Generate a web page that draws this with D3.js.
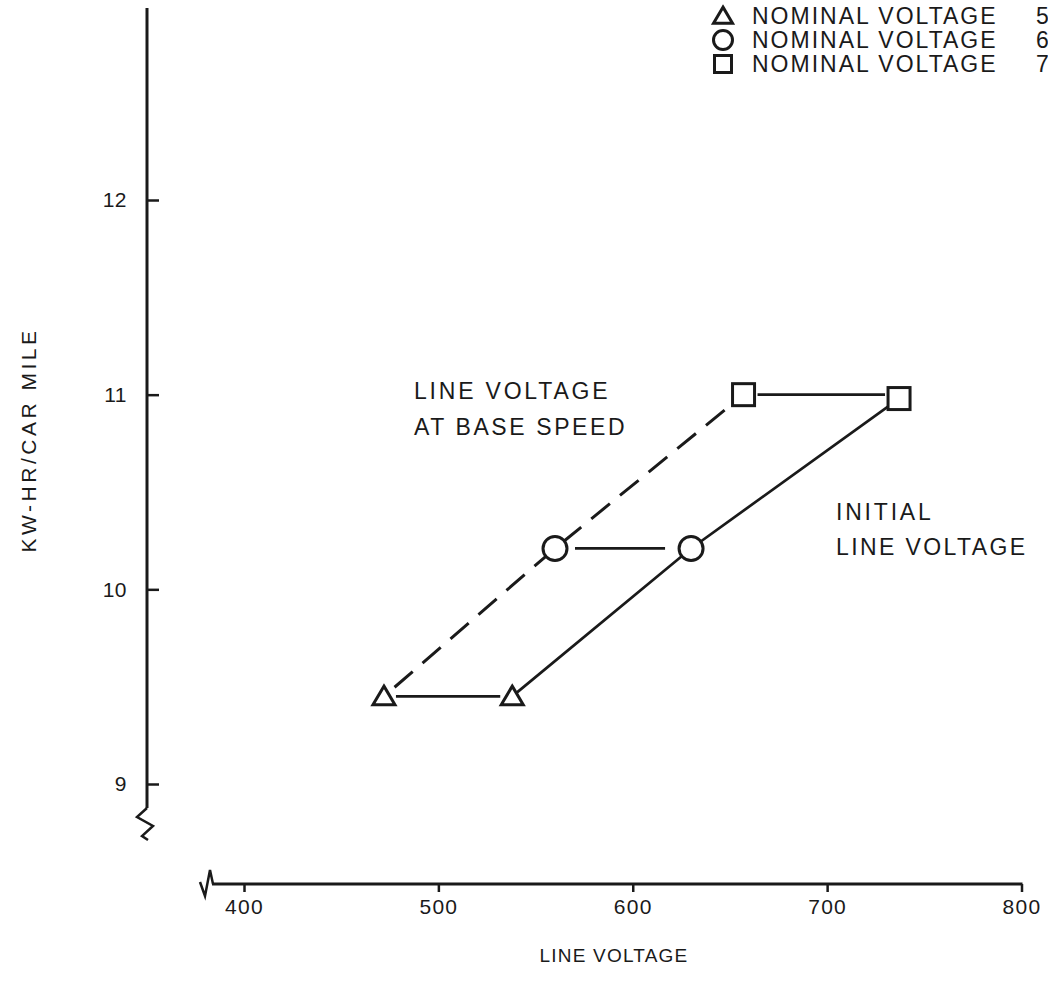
<!DOCTYPE html>
<html>
<head>
<meta charset="utf-8">
<script src="https://cdn.jsdelivr.net/npm/d3@7/dist/d3.min.js"></script>
<style>
  html, body { margin: 0; padding: 0; background: #fff; overflow: hidden; }
  svg { display: block; }
  text { font-family: "Liberation Sans", Arial, Helvetica, sans-serif; fill: #1a1a1a; }
</style>
</head>
<body>
<svg id="chart" width="1048" height="998"></svg>
<script>
// ---- data ----
const nominalLabels = ["NOMINAL VOLTAGE", "NOMINAL VOLTAGE", "NOMINAL VOLTAGE"];
const nominalValues = ["5", "6", "7"];     // cut off at the right edge in the reference
const symbols = ["triangle", "circle", "square"];
const baseSpeedVoltage = [472, 560, 657];   // dashed: line voltage at base speed
const baseSpeedKwh = [9.45, 10.21, 11.0];
const initialVoltage = [538, 630, 737];     // solid: initial line voltage
const initialKwh = [9.45, 10.21, 10.98];
const xTicks = [400, 500, 600, 700, 800];
const yTicks = [9, 10, 11, 12];

const svg = d3.select("#chart");
const ink = "#1a1a1a";

const x = d3.scaleLinear().domain([400, 800]).range([244, 1021.5]);
const y = d3.scaleLinear().domain([9, 12]).range([784, 200]);

// ---- x axis ----
const xAxisY = 884;
const gx = svg.append("g").attr("transform", `translate(0,${xAxisY})`)
  .call(d3.axisBottom(x).tickValues(xTicks).tickSize(8).tickPadding(7).tickFormat(d3.format("d")));
gx.select(".domain").remove();
gx.selectAll(".tick line").attr("stroke", ink).attr("stroke-width", 2.5);
gx.selectAll(".tick text").attr("font-size", 21).attr("fill", ink).style("letter-spacing", "1.3px");
svg.append("line").attr("x1", 212).attr("x2", x(800) + 1).attr("y1", xAxisY).attr("y2", xAxisY)
  .attr("stroke", ink).attr("stroke-width", 3);
// break mark at left end of x axis
svg.append("path").attr("d", `M200,882 L205,896 L210,870 L213,884`)
  .attr("fill", "none").attr("stroke", ink).attr("stroke-width", 2.5);

// ---- y axis ----
const yAxisX = 147;
const gy = svg.append("g").attr("transform", `translate(${yAxisX},0)`)
  .call(d3.axisLeft(y).tickValues(yTicks).tickSize(-12).tickPadding(20).tickFormat(d3.format("d")));
gy.select(".domain").remove();
gy.selectAll(".tick line").attr("stroke", ink).attr("stroke-width", 2.5);
gy.selectAll(".tick text").attr("font-size", 21).attr("fill", ink).style("letter-spacing", "0.5px");
svg.append("line").attr("x1", yAxisX).attr("x2", yAxisX).attr("y1", 8).attr("y2", 808)
  .attr("stroke", ink).attr("stroke-width", 3);
// zigzag break at bottom of y axis
svg.append("path").attr("d", `M${yAxisX},808 L137,817 L153,826 L142,836 L148,840`)
  .attr("fill", "none").attr("stroke", ink).attr("stroke-width", 2.5);

// ---- axis titles ----
svg.append("text").attr("x", 614).attr("y", 962).attr("text-anchor", "middle")
  .attr("font-size", 19).style("letter-spacing", "1.2px").text("LINE VOLTAGE");
svg.append("text").attr("transform", "translate(36,440) rotate(-90)").attr("text-anchor", "middle")
  .attr("font-size", 21).style("letter-spacing", "3.5px").text("KW-HR/CAR MILE");

// ---- lines ----
const line = d3.line().x(d => x(d[0])).y(d => y(d[1]));
const basePts = baseSpeedVoltage.map((v, i) => [v, baseSpeedKwh[i]]);
const initPts = initialVoltage.map((v, i) => [v, initialKwh[i]]);
svg.append("path").attr("d", line(basePts)).attr("fill", "none").attr("stroke", ink)
  .attr("stroke-width", 3).attr("stroke-dasharray", "24,13").attr("stroke-dashoffset", -14);
svg.append("path").attr("d", line(initPts)).attr("fill", "none").attr("stroke", ink)
  .attr("stroke-width", 2.7);

// horizontal connectors (base speed -> initial)
const gaps = [[12, 12], [20, 26], [14, 14]];
symbols.forEach((s, i) => {
  svg.append("line")
    .attr("x1", x(baseSpeedVoltage[i]) + gaps[i][0]).attr("x2", x(initialVoltage[i]) - gaps[i][1])
    .attr("y1", y(baseSpeedKwh[i])).attr("y2", y(baseSpeedKwh[i]))
    .attr("stroke", ink).attr("stroke-width", 2.7);
});

// ---- markers ----
function drawMarker(g, type, cx, cy, size) {
  if (type === "triangle") {
    const h = size * 0.85, w = size;
    g.append("path").attr("d", `M${cx},${cy - h * 0.55} L${cx + w / 2},${cy + h * 0.45} L${cx - w / 2},${cy + h * 0.45} Z`)
      .attr("fill", "#fff").attr("stroke", ink).attr("stroke-width", 3).attr("stroke-linejoin", "miter");
  } else if (type === "circle") {
    g.append("circle").attr("cx", cx).attr("cy", cy).attr("r", size / 2)
      .attr("fill", "#fff").attr("stroke", ink).attr("stroke-width", 3);
  } else {
    g.append("rect").attr("x", cx - size / 2).attr("y", cy - size / 2).attr("width", size).attr("height", size)
      .attr("fill", "#fff").attr("stroke", ink).attr("stroke-width", 3);
  }
}
const mg = svg.append("g");
const msize = { triangle: 22, circle: 24, square: 22 };
symbols.forEach((s, i) => {
  drawMarker(mg, s, x(baseSpeedVoltage[i]), y(baseSpeedKwh[i]), msize[s]);
  drawMarker(mg, s, x(initialVoltage[i]), y(initialKwh[i]), msize[s]);
});

// ---- annotations ----
const ann = svg.append("g").attr("font-size", 23).style("letter-spacing", "2.8px");
ann.append("text").attr("x", 414).attr("y", 399).text("LINE VOLTAGE");
ann.append("text").attr("x", 414).attr("y", 435).style("letter-spacing", "2.6px").text("AT BASE SPEED");
ann.append("text").attr("x", 836).attr("y", 520).text("INITIAL");
ann.append("text").attr("x", 836).attr("y", 555).style("letter-spacing", "2.4px").text("LINE VOLTAGE");

// ---- legend ----
const legY = [16, 40, 64];
const lg = svg.append("g");
symbols.forEach((s, i) => {
  drawMarker(lg, s, 723, legY[i], s === "square" ? 17 : 19);
  lg.append("text").attr("x", 752).attr("y", legY[i] + 8).attr("font-size", 23)
    .style("letter-spacing", "2px").text(nominalLabels[i]);
  lg.append("text").attr("x", 1036).attr("y", legY[i] + 8).attr("font-size", 23)
    .text(nominalValues[i]);
});
</script>
</body>
</html>
